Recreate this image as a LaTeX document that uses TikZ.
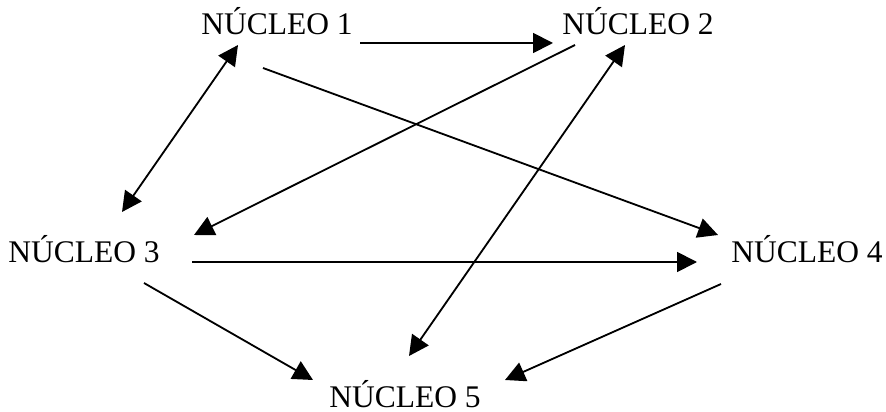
\documentclass[tikz,border=0pt]{standalone}
\usepackage{fontspec}
\setmainfont{Liberation Serif}
\usetikzlibrary{arrows.meta}

\begin{document}
\begin{tikzpicture}[x=0.025cm, y=-0.025cm, line width=1.3pt]

    \tikzset{core/.style={%
      anchor=base,%
      inner sep=0pt,%
      font=\fontsize{22.4}{24}\selectfont}%
    };

    \tikzset{arr/.style={-{Triangle[length=0.5cm, width=0.5cm]}}};
    \tikzset{arrboth/.style={{Triangle[length=0.5cm, width=0.5cm]}-{Triangle[length=0.5cm, width=0.5cm]}}};

    \useasboundingbox (0, 0) rectangle (886, 412);

    %%%%%%%%%%%%%%%
    %   nucleos   %
    %%%%%%%%%%%%%%%
    \path (277, 35) node [core] (n1) {NÚCLEO 1};
    \path (638, 35) node [core] (n2) {NÚCLEO 2};
    \path (84, 262) node [core] (n3) {NÚCLEO 3};
    \path (807, 262) node [core] (n4) {NÚCLEO 4};
    \path (405, 407) node [core] (n5) {NÚCLEO 5};

    \draw [arr] ([shift={(83, 8)}]n1.base) -- ([shift={(-85, 8)}]n2.base);
    \draw [arrboth] ([shift={(-39, 10)}]n1.base) -- ([shift={(38, -50)}]n3.base);
    \draw [arr] ([shift={(-14, 33)}]n1.base) -- ([shift={(-89, -27)}]n4.base);
    \draw [arr] ([shift={(-63, 10)}]n2.base) -- ([shift={(110, -27)}]n3.base);
    \draw [arrboth] ([shift={(-13, 10)}]n2.base) -- ([shift={(4, -51)}]n5.base);
    \draw [arr] ([shift={(108, 0)}]n3.base) -- ([shift={(-110, 0)}]n4.base);
    \draw [arr] ([shift={(60, 21)}]n3.base) -- ([shift={(-92, -27)}]n5.base);
    \draw [arr] ([shift={(-86, 22)}]n4.base) -- ([shift={(100, -27)}]n5.base);

  \end{tikzpicture}
\end{document}
